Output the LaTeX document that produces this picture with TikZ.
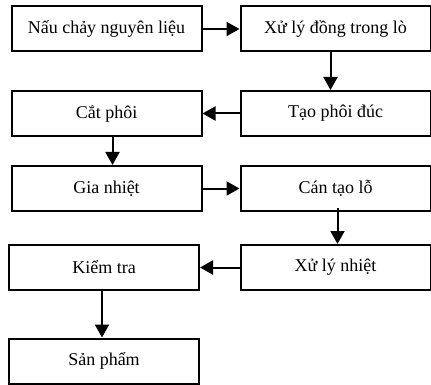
\documentclass[tikz,border=0pt]{standalone}
\usepackage{fontspec}
\setmainfont{Liberation Serif}
\usetikzlibrary{arrows.meta}

\tikzset{
    stepbox/.style={draw, line width=2pt, minimum width=190pt, minimum height=45pt,
        inner sep=0pt, font=\fontsize{18}{20}\selectfont},
    flow/.style={line width=2pt, -{Triangle[length=13pt, width=14pt]}}
}

\begin{document}
\begin{tikzpicture}[x=1pt, y=-1pt]
    % Fix the page size
    \useasboundingbox (0,0) rectangle (431,385);

    % Draw the boxes, left column and right column
    \node[stepbox] (melt)   at (106.5, 29)  {Nấu chảy nguyên liệu};
    \node[stepbox] (treat)  at (335.5, 29)  {Xử lý đồng trong lò};
    \node[stepbox] (cast)   at (335.5, 113.5) {Tạo phôi đúc};
    \node[stepbox] (cut)    at (106.5, 113.5) {Cắt phôi};
    \node[stepbox] (heat)   at (106.5, 188.5) {Gia nhiệt};
    \node[stepbox] (pierce) at (335.5, 188.5) {Cán tạo lỗ};
    \node[stepbox] (anneal) at (335.5, 267.5) {Xử lý nhiệt};
    \node[stepbox] (check)  at (104, 267.5) {Kiểm tra};
    \node[stepbox] (prod)   at (104, 361) {Sản phẩm};

    % Draw the arrows between the steps
    \draw[flow] (melt) -- (treat);
    \draw[flow] ([xshift=-5pt]treat.south) -- ([xshift=-5pt]cast.north);
    \draw[flow] (cast) -- (cut);
    \draw[flow] ([xshift=6pt]cut.south) -- ([xshift=6pt]heat.north);
    \draw[flow] (heat) -- (pierce);
    \draw[flow] ([xshift=2pt, yshift=4pt]pierce.south) -- ([xshift=2pt]anneal.north);
    \draw[flow] (anneal) -- (check);
    \draw[flow] ([xshift=-2pt]check.south) -- ([xshift=-2pt]prod.north);
\end{tikzpicture}
\end{document}
